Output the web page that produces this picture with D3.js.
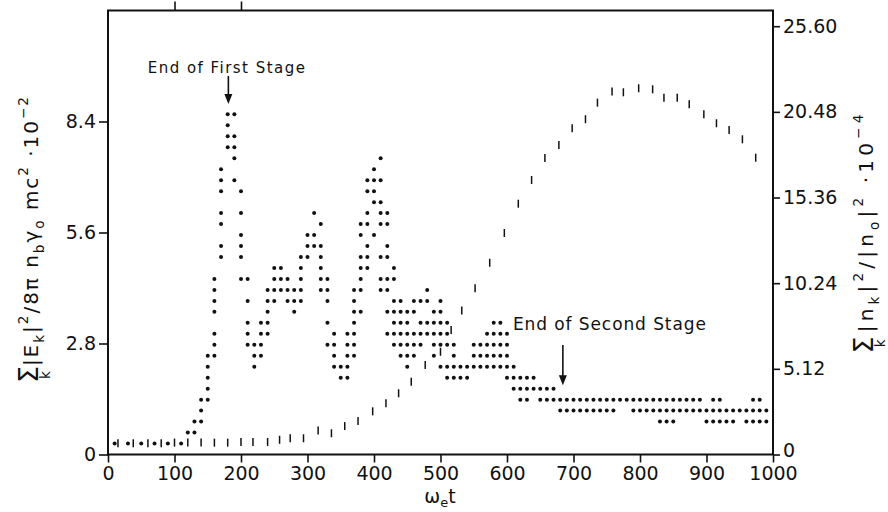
<!DOCTYPE html>
<html>
<head>
<meta charset="utf-8">
<script src="https://cdn.jsdelivr.net/npm/d3@7"></script>
<style>
body { margin: 0; background: #fff; }
svg text { font-family: "DejaVu Sans", sans-serif; fill: #111; }
</style>
</head>
<body>
<div id="chart"></div>
<script>
// ---- axes ----
const timeTicks = [0, 100, 200, 300, 400, 500, 600, 700, 800, 900, 1000]
const energyTicks = [0, 2.8, 5.6, 8.4]
const densityTicks = [0, 5.12, 10.24, 15.36, 20.48, 25.60]

// ---- sum |n_k|^2 (short vertical bars), right axis ----
const barTime = [15, 38, 60, 80, 100, 120, 140, 160, 180, 200, 218, 240, 258, 274, 294, 316, 336, 356, 376, 398,
  418, 437, 456, 477, 500, 516, 532, 552, 574, 596, 617, 637, 657, 678, 698, 718, 736, 758, 775, 798,
  819, 836, 856, 874, 896, 915, 934, 954, 974]
const barValue = [0.67, 0.67, 0.67, 0.67, 0.71, 0.71, 0.71, 0.71, 0.71, 0.75, 0.75, 0.75, 0.88, 0.97, 0.97, 1.43, 1.27, 1.70, 2.00, 2.58,
  3.06, 3.66, 4.35, 5.35, 6.14, 7.44, 8.60, 9.93, 11.46, 13.24, 14.99, 16.41, 17.72, 18.50, 19.50, 20.04, 21.03, 21.69, 21.65, 21.89,
  21.83, 21.33, 21.33, 20.93, 20.34, 19.80, 19.40, 18.84, 17.74]

// ---- sum |E_k|^2 (printer dots), left axis ----
// the dots sit on plotter rows: row 31 is E = 8.58
const dotLevels = [1, 2, 3, 4, 5, 6, 7, 8, 9, 10, 11, 12, 13, 14, 15, 16, 17, 18, 19, 20, 21, 22, 23, 24, 25, 26, 27, 28, 29, 30, 31]
const dotTimes = [
  [10, 30, 50, 70, 90, 110],
  [120, 130],
  [130, 140, 830, 840, 850, 900, 910, 920, 930, 940, 960, 970, 980, 990],
  [140, 680, 690, 700, 710, 720, 730, 740, 750, 760, 790, 800, 810, 820, 830, 840, 850, 860, 870, 880, 890, 900, 910, 920, 930, 940, 950, 960, 970, 980, 990],
  [140, 150, 620, 630, 650, 660, 670, 680, 690, 700, 710, 720, 730, 740, 750, 760, 770, 780, 790, 800, 810, 820, 830, 840, 850, 860, 870, 880, 890, 910, 920, 970, 980],
  [150, 610, 620, 630, 640, 650, 660, 670],
  [150, 350, 360, 510, 520, 530, 540, 600, 610, 620, 630, 640],
  [150, 220, 340, 350, 360, 450, 500, 510, 520, 530, 540, 550, 560, 570, 580, 590, 600, 610],
  [150, 160, 220, 230, 340, 360, 370, 440, 450, 460, 490, 520, 550, 560, 570, 580, 590, 600],
  [160, 210, 220, 230, 330, 340, 360, 370, 430, 440, 450, 460, 470, 490, 500, 510, 520, 550, 560, 570, 580, 590, 600],
  [160, 210, 230, 240, 340, 360, 370, 420, 430, 440, 450, 460, 470, 480, 490, 500, 510, 570, 580, 590, 600],
  [210, 230, 240, 330, 370, 430, 440, 450, 470, 480, 490, 500, 510, 580, 590],
  [160, 240, 280, 370, 380, 420, 430, 440, 450, 460, 490, 500],
  [160, 210, 240, 250, 270, 280, 290, 330, 370, 430, 440, 460, 470, 480, 500],
  [160, 240, 250, 260, 270, 280, 290, 320, 330, 370, 380, 410, 420, 480],
  [160, 200, 210, 250, 260, 270, 290, 320, 330, 380, 410, 420, 430],
  [250, 260, 290, 320, 380, 390, 430],
  [170, 200, 290, 300, 320, 380, 390, 410, 420],
  [170, 200, 300, 310, 320, 390, 420],
  [200, 300, 310, 380, 400],
  [170, 320, 380, 390, 410, 420],
  [170, 200, 310, 390, 410, 420],
  [400, 410],
  [170, 200, 390, 400],
  [170, 190, 390, 400, 410],
  [170, 400],
  [190, 410],
  [180, 190],
  [180, 190],
  [180],
  [180, 190]
]

// annotations (time, left-axis value)
const notes = [
  {text: 'End of First Stage', tx: 178, ty: 9.62, ax: 181, top: 9.55, tip: 8.84, size: 15, len: 157},
  {text: 'End of Second Stage', tx: 754, ty: 3.14, ax: 684, top: 2.76, tip: 1.75, size: 17, len: 193}
]

const width = 888
const height = 512

const x = d3.scaleLinear().domain([0, 1000]).range([108, 773])
const yE = d3.scaleLinear().domain([0, 11.2]).range([454.5, 10.5])
const yN = d3.scaleLinear().domain([0, 25.6]).range([454.5, 26.2])
const level = d3.scaleLinear().domain([0, 31]).range([0, 8.58])

const svg = d3.select('#chart')
  .append('svg')
  .attr('width', width)
  .attr('height', height)

// frame
svg.append('rect')
  .attr('x', x(0))
  .attr('y', yE(11.2))
  .attr('width', x(1000) - x(0))
  .attr('height', yE(0) - yE(11.2))
  .attr('fill', 'none')
  .attr('stroke', '#111')
  .attr('stroke-width', 2)

const styleAxis = (g, size) => {
  g.select('.domain').remove()
  g.selectAll('.tick line').attr('stroke', '#111').attr('stroke-width', 1.6)
  g.selectAll('.tick text').attr('font-size', size).attr('fill', '#111')
}

svg.append('g')
  .attr('transform', `translate(0,${yE(0)})`)
  .call(d3.axisBottom(x).tickValues(timeTicks).tickSize(8).tickPadding(4).tickFormat(d3.format('d')))
  .call(g => styleAxis(g, 19))

svg.append('g')
  .attr('transform', `translate(0,${yE(11.2)})`)
  .call(d3.axisTop(x).tickValues([100, 200]).tickSize(9).tickFormat(''))
  .call(g => styleAxis(g, 19))

svg.append('g')
  .attr('transform', `translate(${x(0)},0)`)
  .call(d3.axisLeft(yE).tickValues(energyTicks).tickSize(9).tickPadding(3).tickFormat(d => d === 0 ? '0' : d.toFixed(1)))
  .call(g => styleAxis(g, 19))

svg.append('g')
  .attr('transform', `translate(${x(1000)},0)`)
  .call(d3.axisRight(yN).tickValues(densityTicks).tickSize(7).tickPadding(3).tickFormat(d => d === 0 ? '0' : d.toFixed(2)))
  .call(g => styleAxis(g, 19))
  .call(g => g.selectAll('.tick text').filter(d => d === 0).attr('dy', '0.12em'))

// bars
svg.append('g')
  .selectAll('line')
  .data(barTime.map((t, i) => ({t, v: barValue[i]})))
  .join('line')
  .attr('x1', d => x(d.t))
  .attr('x2', d => x(d.t))
  .attr('y1', d => yN(d.v) - 4)
  .attr('y2', d => yN(d.v) + 4)
  .attr('stroke', '#111')
  .attr('stroke-width', 1.5)

// dots
const dots = []
dotLevels.forEach((lv, i) => dotTimes[i].forEach(t => dots.push({t, e: level(lv)})))

svg.append('g')
  .selectAll('circle')
  .data(dots)
  .join('circle')
  .attr('cx', d => x(d.t))
  .attr('cy', d => yE(d.e))
  .attr('r', 2)
  .attr('fill', '#111')

// annotations
const ann = svg.append('g')
notes.forEach(n => {
  ann.append('text')
    .attr('x', x(n.tx))
    .attr('y', yE(n.ty))
    .attr('text-anchor', 'middle')
    .attr('font-size', n.size)
    .attr('textLength', n.len)
    .attr('lengthAdjust', 'spacing')
    .text(n.text)
  ann.append('line')
    .attr('x1', x(n.ax)).attr('x2', x(n.ax))
    .attr('y1', yE(n.top)).attr('y2', yE(n.tip) - 6)
    .attr('stroke', '#111').attr('stroke-width', 1.6)
  const tx = x(n.ax), ty = yE(n.tip)
  ann.append('path')
    .attr('d', `M${tx - 4},${ty - 10}L${tx + 4},${ty - 10}L${tx},${ty}Z`)
    .attr('fill', '#111')
})

// rich text helper for the axis titles
const richText = (sel, parts, base, subShift = 0.28) => {
  let shift = 0
  parts.forEach(p => {
    const small = p.k === 'sub' || p.k === 'sup' || p.k === 'under'
    const size = p.size || (small ? base * 0.68 : base)
    const target = p.k === 'sub' ? base * subShift : p.k === 'sup' ? -base * 0.48 : p.k === 'under' ? base * 0.6 : 0
    sel.append('tspan')
      .attr('font-size', size)
      .attr('dx', p.dx || 0)
      .attr('dy', target - shift)
      .text(p.t)
    shift = target
  })
  return sel
}

// vertical title: spread to the given span and centre it on (cx, cy)
const placeVertical = (text, cx, cy, span) => {
  const chars = text.text().length
  const len = text.node().getComputedTextLength()
  text.attr('letter-spacing', (span - len) / chars)
  const b = text.node().getBBox()
  text.attr('transform', `translate(${cx},${cy}) rotate(-90) translate(${-(b.x + b.width / 2)},0)`)
}

const leftTitle = richText(svg.append('text'),
  [{t: 'Σ', size: 27}, {t: 'k', k: 'under', dx: -15}, {t: '|E', dx: 3}, {t: 'k', k: 'sub'}, {t: '|'}, {t: '2', k: 'sup'},
   {t: '/8π n'}, {t: 'b', k: 'sub'}, {t: 'γ'}, {t: 'o', k: 'sub'}, {t: ' mc'}, {t: '2', k: 'sup'}, {t: ' ·10'}, {t: '−2', k: 'sup'}],
  20)
placeVertical(leftTitle, 38, 239, 300)

const rightTitle = richText(svg.append('text'),
  [{t: 'Σ', size: 27}, {t: 'k', k: 'under', dx: -15}, {t: '|n', dx: 3}, {t: 'k', k: 'sub'}, {t: '|'}, {t: '2', k: 'sup'},
   {t: '/|n'}, {t: 'o', k: 'sub'}, {t: '|'}, {t: '2', k: 'sup'}, {t: ' ·10'}, {t: '−4', k: 'sup'}],
  20)
placeVertical(rightTitle, 873, 232, 255)

richText(
  svg.append('text').attr('x', 440).attr('y', 503).attr('text-anchor', 'middle'),
  [{t: 'ω'}, {t: 'e', k: 'sub'}, {t: 't'}],
  19, 0.22)
</script>
</body>
</html>
